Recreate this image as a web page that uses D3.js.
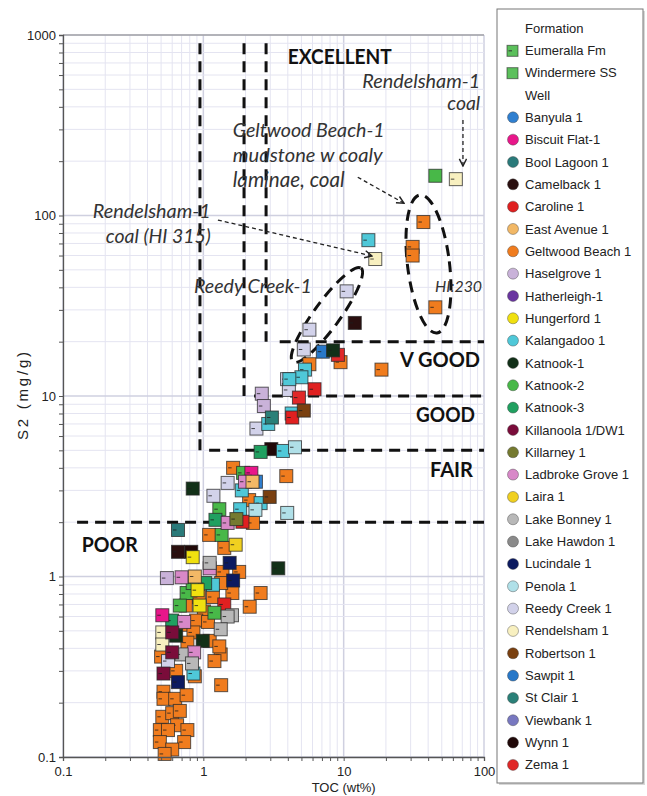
<html>

<head>
    <script src="https://d3js.org/d3.v7.min.js"></script>
    <title>S2 vs TOC source rock quality</title>
    <style>
        body { margin: 0; background: white; }
    </style>
</head>

<body>
    <div id="vis"></div>
</body>

<script>

    // Legend entries
    var formations = ["Eumeralla Fm", "Windermere SS"];
    var wells = ["Banyula 1", "Biscuit Flat-1", "Bool Lagoon 1", "Camelback 1", "Caroline 1", "East Avenue 1",
        "Geltwood Beach 1", "Haselgrove 1", "Hatherleigh-1", "Hungerford 1", "Kalangadoo 1", "Katnook-1",
        "Katnook-2", "Katnook-3", "Killanoola 1/DW1", "Killarney 1", "Ladbroke Grove 1", "Laira 1",
        "Lake Bonney 1", "Lake Hawdon 1", "Lucindale 1", "Penola 1", "Reedy Creek 1", "Rendelsham 1",
        "Robertson 1", "Sawpit 1", "St Clair 1", "Viewbank 1", "Wynn 1", "Zema 1"];
    var wellColors = ["#2f7fd0", "#e8178a", "#2a7a7a", "#2a0f0f", "#e02020", "#f2b866",
        "#f07c1e", "#c9b2d9", "#6a35a0", "#f0e010", "#4fc8d8", "#123018",
        "#48b848", "#20a060", "#7a0c3a", "#757a30", "#d888c8", "#f0d020",
        "#b8b8b8", "#8a8a8a", "#0c1a60", "#b0e0e8", "#d2d2ea", "#f8f0c0",
        "#7a4010", "#2878c8", "#2a8078", "#7878c0", "#200808", "#e02828"];

    // [well, TOC wt%, S2 mg/g]  (Eumeralla Fm)
    var eumerallaSamples = [
        ["Geltwood Beach 1", 37, 92], ["Geltwood Beach 1", 31, 67], ["Geltwood Beach 1", 31, 60],
        ["Geltwood Beach 1", 45, 31], ["Geltwood Beach 1", 9.5, 15.4], ["Geltwood Beach 1", 5.7, 15],
        ["Geltwood Beach 1", 18.6, 14], ["Geltwood Beach 1", 3.9, 3.6], ["Geltwood Beach 1", 1.63, 4.0],
        ["Geltwood Beach 1", 2.12, 2.65], ["Geltwood Beach 1", 2.26, 1.98], ["Geltwood Beach 1", 1.10, 1.70],
        ["Geltwood Beach 1", 1.41, 1.44], ["Geltwood Beach 1", 1.80, 1.06], ["Geltwood Beach 1", 1.37, 1.06],
        ["Geltwood Beach 1", 2.56, 0.81], ["Geltwood Beach 1", 2.14, 0.68], ["Geltwood Beach 1", 1.17, 0.77],
        ["Geltwood Beach 1", 1.61, 0.81], ["Geltwood Beach 1", 1.01, 0.64], ["Geltwood Beach 1", 0.89, 0.57],
        ["Geltwood Beach 1", 1.08, 0.56], ["Geltwood Beach 1", 0.71, 0.54], ["Geltwood Beach 1", 0.85, 0.49],
        ["Geltwood Beach 1", 1.11, 0.44], ["Geltwood Beach 1", 0.77, 0.43], ["Geltwood Beach 1", 1.33, 0.37],
        ["Geltwood Beach 1", 1.20, 0.34], ["Geltwood Beach 1", 0.64, 0.30], ["Geltwood Beach 1", 0.87, 0.28],
        ["Geltwood Beach 1", 1.34, 0.25], ["Geltwood Beach 1", 0.52, 0.23], ["Geltwood Beach 1", 0.52, 0.21],
        ["Geltwood Beach 1", 0.63, 0.21], ["Geltwood Beach 1", 0.76, 0.22], ["Geltwood Beach 1", 0.51, 0.167],
        ["Geltwood Beach 1", 0.60, 0.175], ["Geltwood Beach 1", 0.68, 0.18], ["Geltwood Beach 1", 0.65, 0.15],
        ["Geltwood Beach 1", 0.49, 0.141], ["Geltwood Beach 1", 0.56, 0.141], ["Geltwood Beach 1", 0.77, 0.141],
        ["Geltwood Beach 1", 0.49, 0.121], ["Geltwood Beach 1", 0.73, 0.121], ["Geltwood Beach 1", 0.60, 0.11],
        ["Geltwood Beach 1", 0.53, 0.104], ["Geltwood Beach 1", 0.50, 0.36], ["Geltwood Beach 1", 1.34, 0.92],
        ["Geltwood Beach 1", 1.30, 0.41], ["Geltwood Beach 1", 0.93, 0.77], ["Geltwood Beach 1", 0.75, 0.69],
        ["Camelback 1", 12.0, 25.4], ["Camelback 1", 0.66, 1.37],
        ["Wynn 1", 3.05, 5.08], ["Wynn 1", 0.82, 1.37],
        ["Reedy Creek 1", 10.5, 38], ["Reedy Creek 1", 5.7, 23.3], ["Reedy Creek 1", 5.2, 18.1],
        ["Reedy Creek 1", 3.95, 12.4], ["Reedy Creek 1", 4.07, 10.8], ["Reedy Creek 1", 2.39, 6.6],
        ["Reedy Creek 1", 1.49, 3.3], ["Reedy Creek 1", 1.18, 2.8], ["Reedy Creek 1", 0.56, 0.34],
        ["Haselgrove 1", 2.61, 10.3], ["Haselgrove 1", 2.70, 8.8], ["Haselgrove 1", 0.55, 0.98],
        ["Kalangadoo 1", 15, 73], ["Kalangadoo 1", 5.3, 14], ["Kalangadoo 1", 5.0, 12.7],
        ["Kalangadoo 1", 4.1, 12.4], ["Kalangadoo 1", 2.9, 7.0], ["Kalangadoo 1", 4.26, 8.0],
        ["Kalangadoo 1", 3.69, 4.96], ["Kalangadoo 1", 1.88, 3.0], ["Kalangadoo 1", 2.56, 2.55],
        ["Kalangadoo 1", 1.83, 2.36], ["Kalangadoo 1", 1.17, 0.90], ["Kalangadoo 1", 0.85, 0.29],
        ["Penola 1", 4.5, 5.2], ["Penola 1", 3.96, 2.25], ["Penola 1", 2.35, 2.34],
        ["Zema 1", 9.1, 16.9], ["Zema 1", 4.8, 9.8],
        ["Caroline 1", 6.2, 10.9], ["Caroline 1", 4.3, 7.6], ["Caroline 1", 1.90, 2.01], ["Caroline 1", 1.41, 0.70],
        ["Sawpit 1", 7.1, 17.6],
        ["Banyula 1", 2.37, 3.35],
        ["Katnook-1", 8.4, 17.9], ["Katnook-1", 0.84, 3.07], ["Katnook-1", 3.42, 1.11],
        ["Katnook-1", 0.64, 0.47], ["Katnook-1", 0.99, 0.44],
        ["Katnook-2", 1.92, 3.75], ["Katnook-2", 1.30, 2.36], ["Katnook-2", 1.35, 1.70],
        ["Katnook-2", 0.76, 0.81], ["Katnook-2", 0.84, 0.92], ["Katnook-2", 0.68, 0.69], ["Katnook-2", 1.20, 0.63],
        ["Katnook-3", 2.56, 4.9], ["Katnook-3", 1.22, 2.06], ["Katnook-3", 1.03, 0.92], ["Katnook-3", 0.60, 0.57],
        ["Robertson 1", 5.2, 8.3], ["Robertson 1", 2.97, 2.76],
        ["St Clair 1", 3.08, 7.6],
        ["Bool Lagoon 1", 0.66, 1.81],
        ["Biscuit Flat-1", 0.51, 0.61], ["Biscuit Flat-1", 2.2, 3.75],
        ["Ladbroke Grove 1", 1.98, 3.35], ["Ladbroke Grove 1", 1.49, 1.98], ["Ladbroke Grove 1", 1.11, 1.11],
        ["Ladbroke Grove 1", 0.70, 0.99], ["Ladbroke Grove 1", 0.73, 0.56], ["Ladbroke Grove 1", 0.86, 0.38],
        ["East Avenue 1", 2.24, 3.35], ["East Avenue 1", 0.87, 1.0],
        ["Killarney 1", 1.72, 2.08],
        ["Hungerford 1", 0.84, 1.28], ["Hungerford 1", 0.91, 0.84], ["Hungerford 1", 0.94, 0.69],
        ["Laira 1", 1.70, 1.5],
        ["Lake Bonney 1", 1.11, 1.19], ["Lake Bonney 1", 1.60, 0.61], ["Lake Bonney 1", 1.49, 0.60],
        ["Lake Bonney 1", 1.33, 0.51], ["Lake Bonney 1", 0.70, 0.37], ["Lake Bonney 1", 0.83, 0.33],
        ["Rendelsham 1", 63, 159], ["Rendelsham 1", 16.8, 57.4], ["Rendelsham 1", 0.51, 0.49], ["Rendelsham 1", 0.51, 0.42],
        ["Killanoola 1/DW1", 0.60, 0.49], ["Killanoola 1/DW1", 0.60, 0.38], ["Killanoola 1/DW1", 0.52, 0.29],
        ["Lucindale 1", 1.54, 1.19], ["Lucindale 1", 1.63, 0.95], ["Lucindale 1", 0.66, 0.26]
    ];

    // Windermere SS
    var windermereSamples = [
        ["Katnook-2", 45, 166]
    ];

    // Quality boundaries [x1, y1, x2, y2] in TOC / S2
    var boundaries = [
        [0.946, 900, 0.946, 5], [1.95, 900, 1.95, 10], [2.8, 900, 2.8, 20],
        [0.126, 2, 100, 2], [1.1, 5, 100, 5], [2.3, 10, 100, 10], [3.5, 20, 100, 20]
    ];
    var zoneLabels = [["EXCELLENT", 4.0, 690, 104], ["V GOOD", 25.2, 14.5, 80], ["GOOD", 32.8, 7.2, 59],
        ["FAIR", 41.2, 3.57, 43], ["POOR", 0.136, 1.37, 56]];
    var notes = [
        ["Rendelsham-1", 94, 508, "end", 118], ["coal", 94, 384, "end", 33],
        ["Geltwood Beach-1", 1.62, 273, "start", 152], ["mudstone w coaly", 1.62, 198, "start", 150],
        ["laminae, coal", 1.62, 144, "start", 112],
        ["Rendelsham-1", 1.13, 96.9, "end", 118], ["coal (HI 315)", 1.13, 70.4, "end", 105],
        ["Reedy Creek-1", 0.858, 37.2, "start", 118], ["HI:230", 44.8, 37.8, "start", 47]
    ];
    var arrows = [[70.8, 338, 70.8, 188], [12.6, 163, 26.9, 117], [1.27, 94.4, 15.9, 59.7]];
    // ellipse: centre TOC, centre S2, rx px, ry px, rotation
    var ellipses = [[40.2, 53.9, 21, 69.5, -7], [7.6, 28.1, 58, 13, -54]];

    //Setting up the graph area
    var margin = { top: 35, right: 163, bottom: 39, left: 63 },
        width = 647 - margin.left - margin.right,
        height = 796 - margin.top - margin.bottom;

    var root = d3.select("#vis")
        .append("svg")
        .attr("width", 647)
        .attr("height", 796)
        .style("font-family", "'Liberation Sans', Arial, sans-serif");

    var svg = root.append("g")
        .attr("transform", "translate(" + margin.left + "," + margin.top + ")");

    var x = d3.scaleLog().domain([0.1, 100]).range([0, width]);
    var y = d3.scaleLog().domain([0.1, 1000]).range([height, 0]);

    // log grid values
    var xGrid = [], yGrid = [];
    [0.1, 1, 10, 100].forEach(function (p) {
        for (var m = 1; m <= 9; m++) {
            var v = +(p * m).toPrecision(3);
            if (v <= 100) xGrid.push(v);
            if (v <= 1000) yGrid.push(v);
        }
    });
    yGrid.push(1000);
    var majors = [0.1, 1, 10, 100, 1000];
    function isMajor(v) { return majors.indexOf(v) >= 0; }

    svg.append("g").selectAll("line")
        .data(xGrid)
        .enter().append("line")
        .attr("x1", function (d) { return x(d); })
        .attr("x2", function (d) { return x(d); })
        .attr("y1", 0).attr("y2", height)
        .attr("stroke", function (d) { return isMajor(d) ? "#cfd0e0" : "#e4e4f1"; })
        .attr("stroke-width", function (d) { return isMajor(d) ? 1.5 : 1; });

    svg.append("g").selectAll("line")
        .data(yGrid)
        .enter().append("line")
        .attr("y1", function (d) { return y(d); })
        .attr("y2", function (d) { return y(d); })
        .attr("x1", 0).attr("x2", width)
        .attr("stroke", function (d) { return isMajor(d) ? "#cfd0e0" : "#e4e4f1"; })
        .attr("stroke-width", function (d) { return isMajor(d) ? 1.5 : 1; });

    // top border
    svg.append("line")
        .attr("x1", 0).attr("x2", width).attr("y1", 0).attr("y2", 0)
        .attr("stroke", "#8a8a8a");

    // dashed boundaries
    svg.append("g").selectAll("line")
        .data(boundaries)
        .enter().append("line")
        .attr("x1", function (d) { return x(d[0]); })
        .attr("y1", function (d) { return y(d[1]); })
        .attr("x2", function (d) { return x(d[2]); })
        .attr("y2", function (d) { return y(d[3]); })
        .attr("stroke", "#111")
        .attr("stroke-width", 3)
        .attr("stroke-dasharray", "11,7");

    // dashed ellipses
    svg.append("g").selectAll("ellipse")
        .data(ellipses)
        .enter().append("ellipse")
        .attr("transform", function (d) {
            return "translate(" + x(d[0]) + "," + y(d[1]) + ")rotate(" + d[4] + ")";
        })
        .attr("rx", function (d) { return d[2]; })
        .attr("ry", function (d) { return d[3]; })
        .attr("fill", "none")
        .attr("stroke", "#111")
        .attr("stroke-width", 3)
        .attr("stroke-dasharray", "11,7");

    // markers
    var colorOf = d3.scaleOrdinal().domain(wells).range(wellColors);
    var size = 13;

    function drawSquares(data, withTick) {
        var g = svg.append("g").selectAll("g")
            .data(data)
            .enter().append("g")
            .attr("transform", function (d) { return "translate(" + x(d[1]) + "," + y(d[2]) + ")"; });
        g.append("rect")
            .attr("x", -size / 2).attr("y", -size / 2)
            .attr("width", size).attr("height", size)
            .attr("fill", function (d) { return colorOf(d[0]); })
            .attr("stroke", "rgba(40,40,40,0.75)")
            .attr("stroke-width", 1);
        if (withTick) {
            g.append("line")
                .attr("x1", -size / 2 + 1.5).attr("x2", -size / 2 + 5)
                .attr("y1", 0).attr("y2", 0)
                .attr("stroke", "rgba(30,30,30,0.8)")
                .attr("stroke-width", 1);
        }
    }
    drawSquares(eumerallaSamples, true);
    drawSquares(windermereSamples, false);

    // axes
    var fmt = d3.format("~g");
    var yAxis = svg.append("g")
        .call(d3.axisLeft(y).tickValues(yGrid).tickSize(4)
            .tickFormat(function (d) { return isMajor(d) ? fmt(d) : ""; }));
    var xAxis = svg.append("g")
        .attr("transform", "translate(0," + height + ")")
        .call(d3.axisBottom(x).tickValues(xGrid).tickSize(4)
            .tickFormat(function (d) { return isMajor(d) ? fmt(d) : ""; }));
    [xAxis, yAxis].forEach(function (a) {
        a.select(".domain").attr("stroke", "#555").attr("stroke-width", 1.3);
        a.selectAll(".tick line").attr("stroke", "#555");
        a.selectAll("text").attr("fill", "#222").style("font-size", "13px")
            .style("font-family", "'Liberation Sans', Arial, sans-serif");
    });
    xAxis.selectAll("text").attr("dy", "0.95em");

    //x axis label
    svg.append("text")
        .attr("x", x(10))
        .attr("y", height + 35)
        .style("text-anchor", "middle")
        .style("font-size", "13px")
        .attr("fill", "#222")
        .text("TOC (wt%)");

    //y axis label
    svg.append("text")
        .attr("transform", "rotate(-90)")
        .attr("x", -y(10))
        .attr("y", -35)
        .style("text-anchor", "middle")
        .style("font-size", "15px")
        .attr("textLength", 88)
        .attr("lengthAdjust", "spacing")
        .attr("fill", "#222")
        .text("S2 (mg/g)");

    // zone labels
    svg.append("g").selectAll("text")
        .data(zoneLabels)
        .enter().append("text")
        .attr("x", function (d) { return x(d[1]); })
        .attr("y", function (d) { return y(d[2]); })
        .attr("textLength", function (d) { return d[3]; })
        .attr("lengthAdjust", "spacingAndGlyphs")
        .style("font-family", "Lato, 'Open Sans', sans-serif")
        .style("font-weight", "bold")
        .style("font-size", "20px")
        .attr("fill", "#111")
        .text(function (d) { return d[0]; });

    // italic notes, font size fitted to the measured width
    svg.append("g").selectAll("text")
        .data(notes)
        .enter().append("text")
        .attr("x", function (d) { return x(d[1]); })
        .attr("y", function (d) { return y(d[2]); })
        .attr("text-anchor", function (d) { return d[3]; })
        .style("font-family", "Lato, 'Open Sans', sans-serif")
        .style("font-style", "italic")
        .style("font-size", "18px")
        .attr("fill", "#333")
        .text(function (d) { return d[0]; })
        .each(function (d) {
            var len = this.getComputedTextLength();
            if (len > 0) d3.select(this).style("font-size", (18 * d[4] / len) + "px");
        });

    // arrows
    root.append("defs").append("marker")
        .attr("id", "head")
        .attr("viewBox", "0 0 10 10")
        .attr("refX", 9).attr("refY", 5)
        .attr("markerWidth", 9).attr("markerHeight", 9)
        .attr("markerUnits", "userSpaceOnUse")
        .attr("orient", "auto")
        .append("path")
        .attr("d", "M1,1 L9,5 L1,9")
        .attr("fill", "none")
        .attr("stroke", "#222")
        .attr("stroke-width", 1.6);

    svg.append("g").selectAll("line")
        .data(arrows)
        .enter().append("line")
        .attr("x1", function (d) { return x(d[0]); })
        .attr("y1", function (d) { return y(d[1]); })
        .attr("x2", function (d) { return x(d[2]); })
        .attr("y2", function (d) { return y(d[3]); })
        .attr("stroke", "#222")
        .attr("stroke-width", 1.3)
        .attr("stroke-dasharray", "4,3")
        .attr("marker-end", "url(#head)");

    // legend
    var legend = root.append("g");
    legend.append("rect")
        .attr("x", 499).attr("y", 11).attr("width", 146).attr("height", 774)
        .attr("fill", "#d8d8d8");
    legend.append("rect")
        .attr("x", 497).attr("y", 9).attr("width", 146).attr("height", 774)
        .attr("fill", "white").attr("stroke", "#777");

    var rows = [{ label: "Formation", kind: "head" }];
    formations.forEach(function (f, i) { rows.push({ label: f, kind: "form", tick: i == 0 }); });
    rows.push({ label: "Well", kind: "head" });
    wells.forEach(function (w) { rows.push({ label: w, kind: "well" }); });

    var rowStep = 22.33;
    var item = legend.selectAll(".item")
        .data(rows)
        .enter().append("g")
        .attr("transform", function (d, i) { return "translate(0," + (28 + i * rowStep) + ")"; });

    item.append("text")
        .attr("x", 525)
        .attr("dy", "0.35em")
        .style("font-size", "13px")
        .attr("fill", "#222")
        .text(function (d) { return d.label; });

    item.filter(function (d) { return d.kind == "well"; })
        .append("circle")
        .attr("cx", 513).attr("r", 5.5)
        .attr("fill", function (d) { return colorOf(d.label); })
        .attr("stroke", "rgba(60,60,60,0.5)")
        .attr("stroke-width", 0.8);

    item.filter(function (d) { return d.kind == "form"; })
        .append("rect")
        .attr("x", 507).attr("y", -5).attr("width", 11).attr("height", 11)
        .attr("fill", "#5cc05c")
        .attr("stroke", "rgba(40,40,40,0.6)");

    item.filter(function (d) { return d.kind == "form" && d.tick; })
        .append("line")
        .attr("x1", 508.5).attr("x2", 512).attr("y1", 0.5).attr("y2", 0.5)
        .attr("stroke", "#333");

</script>

</html>
